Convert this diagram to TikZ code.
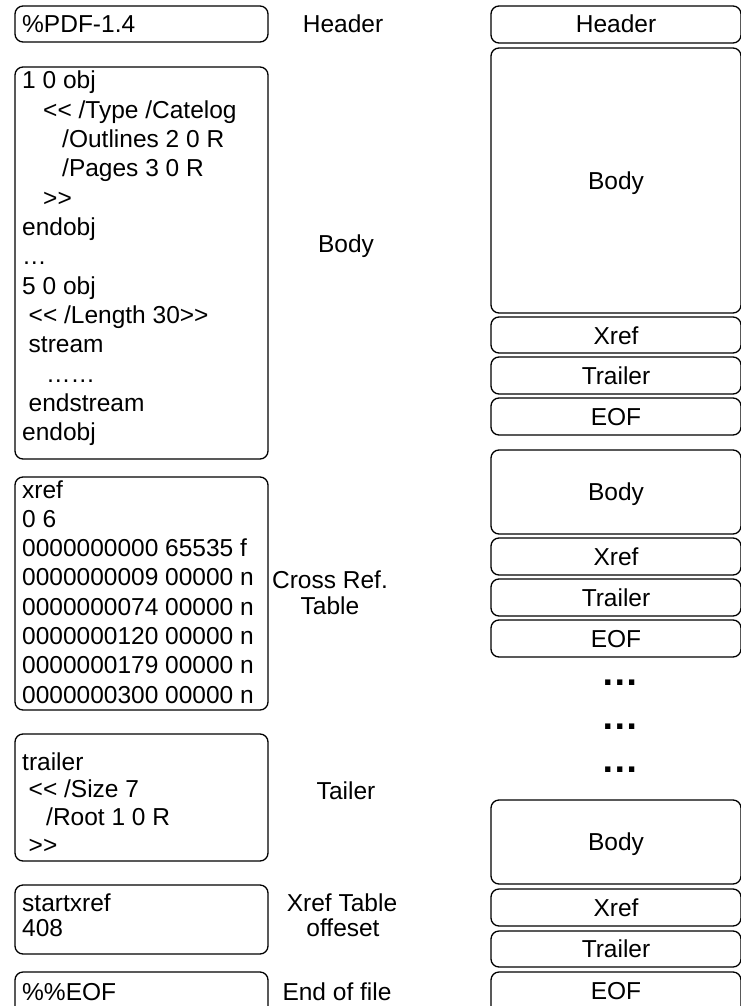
\documentclass[tikz,border=0pt]{standalone}
\usepackage{fontspec}
\setmainfont{Liberation Sans}[Ligatures=TeXOff]
\usetikzlibrary{fit}
% leading indentation of a code line
\newcommand\indsp[1]{\hspace*{#1pt}}
\begin{document}
\begin{tikzpicture}[x=1pt,y=-1pt,
  blk/.style={draw=black, line width=1.3pt, rounded corners=8pt, inner sep=0pt},
  code/.style={anchor=base west, inner sep=0pt, font=\fontsize{24.5}{29}\selectfont},
  lbl/.style={anchor=base, inner sep=0pt, font=\fontsize{24.5}{29}\selectfont},
  more/.style={inner sep=0pt, font=\fontsize{37.5}{40}\selectfont\bfseries}]
\fill[white] (0,0) rectangle (740,1006);
\useasboundingbox (0,0) rectangle (740,1006);

% ---- left column: the file as text ----
\node[blk, fit={(15,6)(268,42)}]    (hdrL)   {};
\node[blk, fit={(15,67)(268,459)}]  (bodyL)  {};
\node[blk, fit={(15,477)(268,710)}] (xrefL)  {};
\node[blk, fit={(15,734)(268,861)}] (trailL) {};
\node[blk, fit={(15,885)(268,954)}] (sxrefL) {};
\node[blk, fit={(15,972)(268,1016)}] (eofL)  {};

\node[code] (hdrL-t) at (22,32.5) {\%PDF-1.4};

\foreach \t [count=\i] in {
  {1 0 obj},
  {\indsp{21}<< /Type /Catelog},
  {\indsp{40}/Outlines 2 0 R},
  {\indsp{40}/Pages 3 0 R},
  {\indsp{21}>>},
  {endobj},
  {…},
  {5 0 obj},
  {\indsp{6.5}<< /Length 30>>},
  {\indsp{6.5}stream},
  {\indsp{24}……},
  {\indsp{6.5}endstream},
  {endobj}}
  \node[code] (bodyL-\i) at (22,{89+29.3*(\i-1)}) {\t};

\foreach \t [count=\i] in {
  {xref},
  {0 6},
  {0000000000 65535 f},
  {0000000009 00000 n},
  {0000000074 00000 n},
  {0000000120 00000 n},
  {0000000179 00000 n},
  {0000000300 00000 n}}
  \node[code] (xrefL-\i) at (22,{498+29.3*(\i-1)}) {\t};

\foreach \t [count=\i] in {
  {trailer},
  {\indsp{6.5}<< /Size 7},
  {\indsp{24}/Root 1 0 R},
  {\indsp{6.5}>>}}
  \node[code] (trailL-\i) at (22,{770+27.8*(\i-1)}) {\t};

\node[code] (sxrefL-1) at (22,911) {startxref};
\node[code] (sxrefL-2) at (22,936) {408};
\node[code] (eofL-t)   at (22,1000) {\%\%EOF};

% ---- middle column: section names ----
\node[lbl] (n-hdr)   at (343,32.5) {Header};
\node[lbl] (n-body)  at (346,252)  {Body};
\node[lbl] (n-xref1) at (330,588)  {Cross Ref.};
\node[lbl] (n-xref2) at (330,614)  {Table};
\node[lbl] (n-trl)   at (346,799)  {Tailer};
\node[lbl] (n-off1)  at (342,911)  {Xref Table};
\node[lbl] (n-off2)  at (343,936)  {offeset};
\node[lbl] (n-eof)   at (337,1000) {End of file};

% ---- right column: incremental updates ----
\foreach \nm/\ya/\yb/\txt/\yt in {
  rH/6/43/Header/33,
  rB1/48/313/Body/189,
  rX1/317/353/Xref/344,
  rT1/357/394/Trailer/384.5,
  rE1/398/435/EOF/425,
  rB2/450/534/Body/500.5,
  rX2/538/575/Xref/565,
  rT2/579/616/Trailer/606.5,
  rE2/620/657/EOF/647,
  rB3/800/884/Body/850.5,
  rX3/889/926/Xref/916,
  rT3/931/967/Trailer/957.5,
  rE3/972/1016/EOF/999}
{
  \node[blk, fit={(491,\ya)(741,\yb)}] (\nm) {};
  \node[lbl] (\nm-t) at (616,\yt) {\txt};
}

\node[more] (gap1) at (620,683) {…};
\node[more] (gap2) at (620,727) {…};
\node[more] (gap3) at (620,770) {…};
\end{tikzpicture}
\end{document}
